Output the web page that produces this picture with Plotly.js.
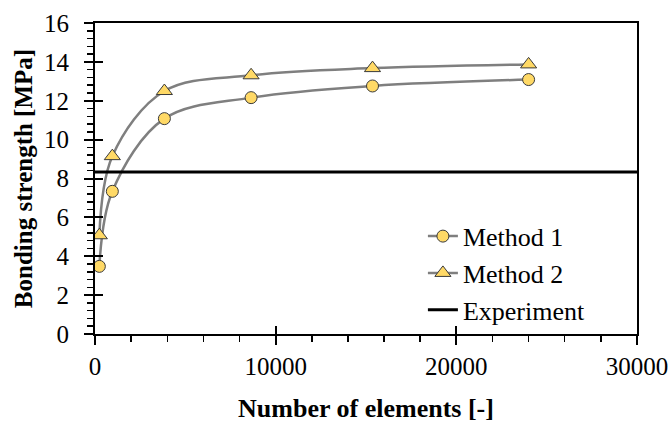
<!DOCTYPE html>
<html>
<head>
<meta charset="utf-8">
<script src="https://cdn.plot.ly/plotly-3.0.1.min.js"></script>
<style>
  html, body { margin: 0; padding: 0; background: #ffffff; }
  #chart { width: 668px; height: 423px; }
</style>
</head>
<body>
<div id="chart"></div>
<script>
// Mesh refinement study: bonding strength vs. number of elements
const elements = [240, 960, 3840, 8640, 15360, 24000];
const method1 = [3.48, 7.34, 11.08, 12.16, 12.76, 13.09];
const method2 = [5.08, 9.15, 12.50, 13.31, 13.68, 13.87];
const experimentSpan = [0, 30000];
const experimentValue = 8.34;

const serif = 'Liberation Serif, Times New Roman, serif';
const markerFill = '#FFD966';
const markerEdge = '#3a3a3a';
const curveColor = '#7f7f7f';

const traces = [
  {
    x: elements, y: method1, name: 'Method 1',
    mode: 'lines+markers', type: 'scatter',
    line: { color: curveColor, width: 2.5, shape: 'spline', smoothing: 1 },
    marker: { symbol: 'circle', size: 12, color: markerFill, line: { color: markerEdge, width: 1 } }
  },
  {
    x: elements, y: method2, name: 'Method 2',
    mode: 'lines+markers', type: 'scatter',
    line: { color: curveColor, width: 2.5, shape: 'spline', smoothing: 1 },
    marker: { symbol: 'triangle-up', size: 14, color: markerFill, line: { color: markerEdge, width: 1 } }
  },
  // measured value, drawn on the overlay axes that carry the inner half of the major ticks
  {
    x: experimentSpan, y: experimentSpan.map(() => experimentValue), name: 'Experiment',
    xaxis: 'x2', yaxis: 'y2',
    mode: 'lines', type: 'scatter',
    line: { color: '#000000', width: 3 }
  }
];

// main axes: frame, labels, outer major and minor ticks
const axisCommon = {
  type: 'linear',
  showgrid: false, zeroline: false,
  linecolor: '#000000', linewidth: 2, mirror: true,
  ticks: 'outside', ticklen: 9, tickwidth: 2, tickcolor: '#000000',
  ticklabeloverflow: 'allow',
  tickfont: { family: serif, size: 25, color: '#000000' }
};

// overlay axes holding the inner half of the major ticks (crossing ticks)
const innerTicks = {
  type: 'linear',
  ticks: 'inside', ticklen: 8, tickwidth: 2, tickcolor: '#000000',
  showticklabels: false, showline: false, showgrid: false, zeroline: false
};

const layout = {
  width: 668, height: 423,
  margin: { l: 95, r: 31, t: 23, b: 89 },
  paper_bgcolor: '#ffffff', plot_bgcolor: '#ffffff',
  showlegend: true,
  legend: {
    x: 0.605, y: 0.39, xanchor: 'left', yanchor: 'top',
    bgcolor: 'rgba(255,255,255,0)',
    font: { family: serif, size: 26, color: '#000000' },
    tracegroupgap: 0
  },
  xaxis: Object.assign({}, axisCommon, {
    range: [0, 30000], dtick: 10000, tick0: 0, tickformat: 'd',
    ticklabelstandoff: 0,
    minor: { dtick: 2000, ticks: 'outside', ticklen: 6, tickwidth: 1.5, tickcolor: '#000000' },
    title: { text: '<b>Number of elements [-]</b>', font: { family: serif, size: 26, color: '#000000' }, standoff: 25 }
  }),
  yaxis: Object.assign({}, axisCommon, {
    range: [0, 16], dtick: 2, tick0: 0,
    ticklabelstandoff: 10,
    minor: { dtick: 0.4, ticks: 'outside', ticklen: 6, tickwidth: 1.5, tickcolor: '#000000' },
    title: { text: '<b>Bonding strength [MPa]</b>', font: { family: serif, size: 25, color: '#000000' }, standoff: 4 }
  }),
  xaxis2: Object.assign({}, innerTicks, {
    overlaying: 'x', anchor: 'y', side: 'bottom',
    range: [0, 30000], dtick: 10000, tick0: 0
  }),
  yaxis2: Object.assign({}, innerTicks, {
    overlaying: 'y', anchor: 'x', side: 'left',
    range: [0, 16], dtick: 2, tick0: 0
  })
};

Plotly.newPlot('chart', traces, layout, { displayModeBar: false, staticPlot: true });
</script>
</body>
</html>
